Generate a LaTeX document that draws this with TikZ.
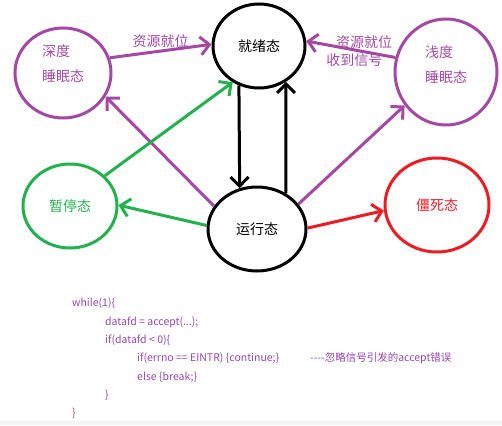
\documentclass[tikz,border=0pt]{standalone}
\usepackage{fontspec}
\setmainfont{Noto Sans CJK SC}
\usetikzlibrary{shapes.geometric,arrows.meta}
\definecolor{ppurple}{RGB}{163,73,164}
\definecolor{pgreen}{RGB}{34,177,76}
\definecolor{pred}{RGB}{237,28,36}
\definecolor{codepurple}{RGB}{150,70,175}
\begin{document}
\begin{tikzpicture}[x=1pt,y=-1pt,
    estado/.style={ellipse,draw,line width=3pt,inner sep=0pt,font=\fontsize{14}{25}\selectfont},
    flecha/.style={line width=3pt,-{Straight Barb[length=9pt,width=18pt,line width=3pt]}},
    rotulo/.style={font=\fontsize{14}{16}\selectfont,text=ppurple,inner sep=2pt},
    codigo/.style={anchor=west,font=\fontsize{10.5}{12}\selectfont,text=codepurple,inner sep=0pt}]
  \useasboundingbox (0,0) rectangle (502,425);
  \fill[gray!8] (0,421) rectangle (502,425);
  % estados
  \node[estado,ppurple,minimum width=96pt,minimum height=90pt,align=left,text depth=19pt] (deep) at (63,73) {深度\\睡眠态};
  \node[estado,black,minimum width=92pt,minimum height=84pt] (ready) at (259,46) {就绪态};
  \node[estado,ppurple,minimum width=102pt,minimum height=106pt,align=left,text depth=16pt] (shallow) at (446,72) {浅度\\睡眠态};
  \node[estado,pgreen,minimum width=94pt,minimum height=84pt] (pause) at (70,206) {暂停态};
  \node[estado,black,minimum width=98pt,minimum height=84pt] (run) at (257,229) {运行态};
  \node[estado,pred,minimum width=104pt,minimum height=94pt] (zombie) at (437,205) {僵死态};
  % transiciones
  \draw[flecha,ppurple] (deep.18) -- (ready.178) node[midway,above,rotulo] {资源就位};
  \draw[flecha,ppurple] (shallow.164) -- (ready.6)
    node[pos=0.35,above,rotulo] {资源就位}
    node[pos=0.46,below,rotulo] {收到信号};
  \draw[flecha,black] (ready.243) -- (run.113);
  \draw[flecha,black] (run.51) -- (ready.307);
  \draw[flecha,ppurple] (run.152) -- (deep.331);
  \draw[flecha,ppurple] (run.31) -- (shallow.219);
  \draw[flecha,pgreen] (run.176) -- (pause.1);
  \draw[flecha,pgreen] (pause.41) -- (ready.234);
  \draw[flecha,pred] (run.1) -- (zombie.186);
  % codigo
  \node[codigo] (l1) at (72,303) {while(1)\{};
  \node[codigo] (l2) at (105,322) {datafd = accept(...);};
  \node[codigo] (l3) at (105,340) {if(datafd < 0)\{};
  \node[codigo] (l4) at (137,358) {if(errno == EINTR) \{continue;\}};
  \node[codigo] (l4c) at (310,358) {-{}-{}-{}-忽略信号引发的accept错误};
  \node[codigo] (l5) at (137,377) {else \{break;\}};
  \node[codigo] (l6) at (105,395) {\}};
  \node[codigo] (l7) at (72,413) {\}};
\end{tikzpicture}
\end{document}
